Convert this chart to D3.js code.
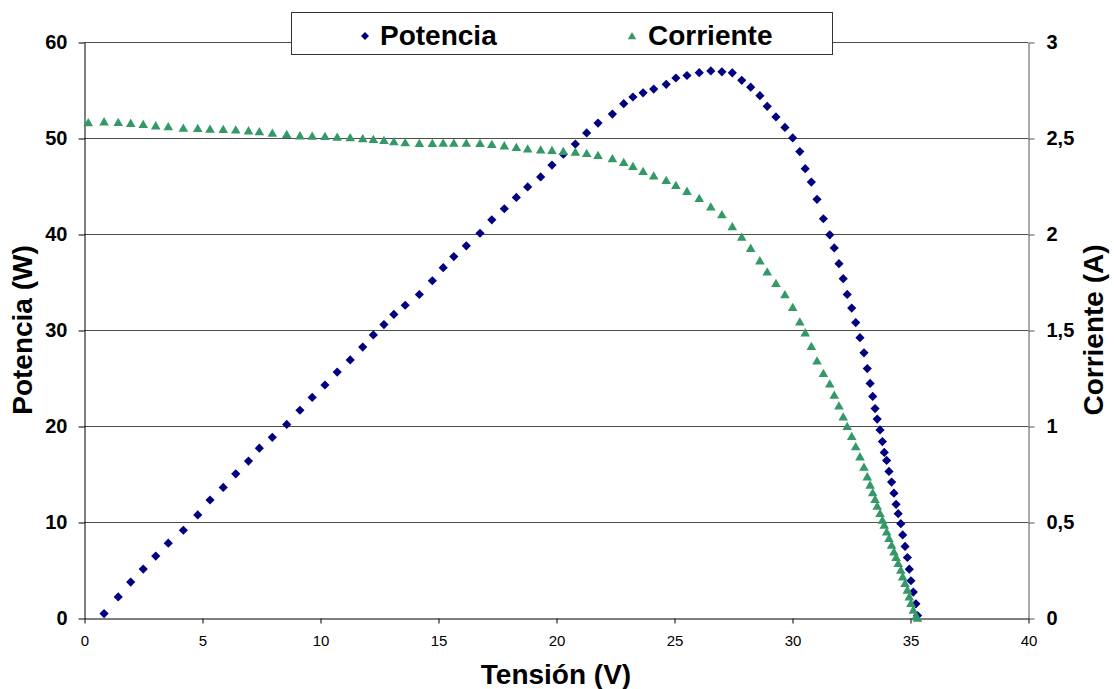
<!DOCTYPE html>
<html>
<head>
<meta charset="utf-8">
<script src="https://cdn.jsdelivr.net/npm/d3@7/dist/d3.min.js"></script>
<style>
  body { margin: 0; background: #fff; }
  text { font-family: "Liberation Sans", Arial, sans-serif; }
</style>
</head>
<body>
<div id="chart"></div>
<script>
// Tension (V) de cada medida
var tension = [0.18, 0.85, 1.45, 1.98, 2.51, 3.04, 3.57, 4.21, 4.82, 5.34,
  5.90, 6.43, 6.97, 7.43, 7.98, 8.59, 9.15, 9.67, 10.21, 10.73,
  11.28, 11.81, 12.26, 12.71, 13.13, 13.61, 14.21, 14.76, 15.22, 15.67,
  16.20, 16.78, 17.28, 17.81, 18.32, 18.80, 19.35, 19.83, 20.31, 20.82,
  21.30, 21.78, 22.39, 22.87, 23.26, 23.69, 24.14, 24.67, 25.08, 25.55,
  26.07, 26.56, 27.03, 27.47, 27.87, 28.25, 28.64, 28.95, 29.32, 29.70,
  30.03, 30.33, 30.56, 30.82, 31.06, 31.33, 31.60, 31.79, 31.99, 32.17,
  32.34, 32.53, 32.70, 32.88, 33.05, 33.19, 33.31, 33.42, 33.52, 33.61,
  33.73, 33.83, 33.91, 34.01, 34.11, 34.22, 34.32, 34.41, 34.50, 34.61,
  34.69, 34.79, 34.89, 34.97, 35.04, 35.14, 35.25, 35.32];

// Corriente (A)
var corriente = [2.580, 2.585, 2.582, 2.577, 2.571, 2.564, 2.559, 2.552, 2.550, 2.547,
  2.545, 2.543, 2.538, 2.533, 2.526, 2.519, 2.512, 2.510, 2.509, 2.505,
  2.502, 2.497, 2.493, 2.488, 2.481, 2.476, 2.472, 2.472, 2.474, 2.474,
  2.474, 2.472, 2.467, 2.460, 2.451, 2.444, 2.438, 2.436, 2.431, 2.427,
  2.420, 2.410, 2.393, 2.373, 2.352, 2.326, 2.303, 2.280, 2.253, 2.223,
  2.186, 2.142, 2.101, 2.039, 1.984, 1.926, 1.861, 1.803, 1.743, 1.684,
  1.618, 1.543, 1.486, 1.415, 1.339, 1.274, 1.220, 1.161, 1.105, 1.048,
  0.998, 0.946, 0.893, 0.840, 0.786, 0.736, 0.693, 0.653, 0.618, 0.583,
  0.545, 0.510, 0.484, 0.449, 0.415, 0.380, 0.345, 0.316, 0.285, 0.250,
  0.215, 0.181, 0.146, 0.111, 0.077, 0.042, 0.007, 0.000];

// Potencia (W), la columna va desplazada una fila
var potencia = [null, 0.46, 2.20, 3.74, 5.10, 6.45, 7.79, 9.14, 10.74, 12.29,
  13.60, 15.02, 16.35, 17.69, 18.82, 20.16, 21.64, 22.98, 24.27, 25.62,
  26.88, 28.22, 29.49, 30.56, 31.62, 32.58, 33.70, 35.13, 36.49, 37.65,
  38.77, 40.08, 41.48, 42.63, 43.81, 44.90, 45.95, 47.18, 48.31, 49.37,
  50.53, 51.55, 52.49, 53.58, 54.27, 54.71, 55.10, 55.59, 56.25, 56.51,
  56.80, 56.99, 56.89, 56.79, 56.01, 55.29, 54.41, 53.30, 52.20, 51.10,
  50.01, 48.59, 46.80, 45.41, 43.61, 41.59, 39.91, 38.55, 36.91, 35.35,
  33.71, 32.28, 30.77, 29.20, 27.62, 25.98, 24.43, 23.08, 21.82, 20.72,
  19.59, 18.38, 17.25, 16.41, 15.27, 14.16, 13.00, 11.84, 10.87, 9.83,
  8.65, 7.46, 6.30, 5.09, 3.88, 2.70, 1.48, 0.25];

var xTicks = [0, 5, 10, 15, 20, 25, 30, 35, 40];
var potTicks = [0, 10, 20, 30, 40, 50, 60];
var corTicks = [0, 0.5, 1, 1.5, 2, 2.5, 3];
var seriesNames = ["Potencia", "Corriente"];

var margin = { top: 42, right: 86, bottom: 71, left: 84 };
var width = 1114 - margin.left - margin.right;
var height = 689 - margin.top - margin.bottom;

var colPot = "#000080";
var colCor = "#339966";

var svg = d3.select("#chart")
  .append("svg")
  .attr("width", width + margin.left + margin.right)
  .attr("height", height + margin.top + margin.bottom)
  .append("g")
  .attr("transform", "translate(" + margin.left + "," + margin.top + ")");

var x = d3.scaleLinear().domain([0, 40]).range([0, width]);
var yP = d3.scaleLinear().domain([0, 60]).range([height, 0]);
var yI = d3.scaleLinear().domain([0, 3]).range([height, 0]);

// grid
svg.append("g")
  .selectAll("line")
  .data(potTicks.filter(function(d) { return d > 0; }))
  .enter()
  .append("line")
  .attr("x1", 0)
  .attr("x2", width)
  .attr("y1", function(d) { return Math.round(yP(d)) + 0.5; })
  .attr("y2", function(d) { return Math.round(yP(d)) + 0.5; })
  .style("stroke", "#4d4d4d")
  .style("stroke-width", 1);

// axes
var xAxis = svg.append("g")
  .attr("transform", "translate(0.5," + (height + 0.5) + ")")
  .call(d3.axisBottom(x).tickValues(xTicks).tickSize(5).tickSizeOuter(0).tickPadding(12));
xAxis.selectAll("text").style("font-size", "15px").style("fill", "#000");

var leftAxis = svg.append("g")
  .attr("transform", "translate(0.5,0.5)")
  .call(d3.axisLeft(yP).tickValues(potTicks).tickSize(6).tickSizeOuter(0).tickPadding(11));
leftAxis.selectAll("text").style("font-size", "20px").style("font-weight", "bold").style("fill", "#000");

var rightAxis = svg.append("g")
  .attr("transform", "translate(" + (width + 0.5) + ",0.5)")
  .call(d3.axisRight(yI).tickValues(corTicks).tickSize(6).tickSizeOuter(0).tickPadding(12)
    .tickFormat(function(d) { return String(d).replace(".", ","); }));
rightAxis.selectAll("text").style("font-size", "20px").style("font-weight", "bold").style("fill", "#000");
rightAxis.selectAll("line, path").style("stroke", "#555");

// markers
var diamond = "M0,-4.6L4.6,0L0,4.6L-4.6,0Z";
var triangle = "M0,-4.6L4.8,3.7L-4.8,3.7Z";

var potPts = tension.map(function(v, i) { return { v: v, p: potencia[i] }; })
  .filter(function(d) { return d.p !== null; });

svg.append("g")
  .selectAll("path")
  .data(potPts)
  .enter()
  .append("path")
  .attr("d", diamond)
  .attr("transform", function(d) { return "translate(" + x(d.v) + "," + yP(d.p) + ")"; })
  .attr("fill", colPot);

svg.append("g")
  .selectAll("path")
  .data(tension)
  .enter()
  .append("path")
  .attr("d", triangle)
  .attr("transform", function(d, i) { return "translate(" + x(d) + "," + yI(corriente[i]) + ")"; })
  .attr("fill", colCor);

// axis titles
svg.append("text")
  .attr("x", width / 2)
  .attr("y", height + 66)
  .attr("text-anchor", "middle")
  .style("font-size", "28px")
  .style("font-weight", "bold")
  .text("Tensión (V)");

svg.append("text")
  .attr("transform", "translate(" + (-52) + "," + (height / 2) + ") rotate(-90)")
  .attr("text-anchor", "middle")
  .style("font-size", "28px")
  .style("font-weight", "bold")
  .text("Potencia (W)");

svg.append("text")
  .attr("transform", "translate(" + (width + 75) + "," + (height / 2) + ") rotate(-90)")
  .attr("text-anchor", "middle")
  .style("font-size", "28px")
  .style("font-weight", "bold")
  .text("Corriente (A)");

// legend
var legend = svg.append("g").attr("transform", "translate(" + (291 - margin.left) + "," + (12 - margin.top) + ")");
legend.append("rect")
  .attr("x", 0.5).attr("y", 0.5)
  .attr("width", 541).attr("height", 42)
  .attr("fill", "#fff")
  .style("stroke", "#333")
  .style("stroke-width", 1);

legend.append("path").attr("d", "M0,-4L4,0L0,4L-4,0Z")
  .attr("transform", "translate(74,24)").attr("fill", colPot);
legend.append("text").attr("x", 89).attr("y", 33)
  .style("font-size", "28px").style("font-weight", "bold").text(seriesNames[0]);

legend.append("path").attr("d", "M0,-4L4.2,3.2L-4.2,3.2Z")
  .attr("transform", "translate(341,24)").attr("fill", colCor);
legend.append("text").attr("x", 357).attr("y", 33)
  .style("font-size", "28px").style("font-weight", "bold").text(seriesNames[1]);
</script>
</body>
</html>
